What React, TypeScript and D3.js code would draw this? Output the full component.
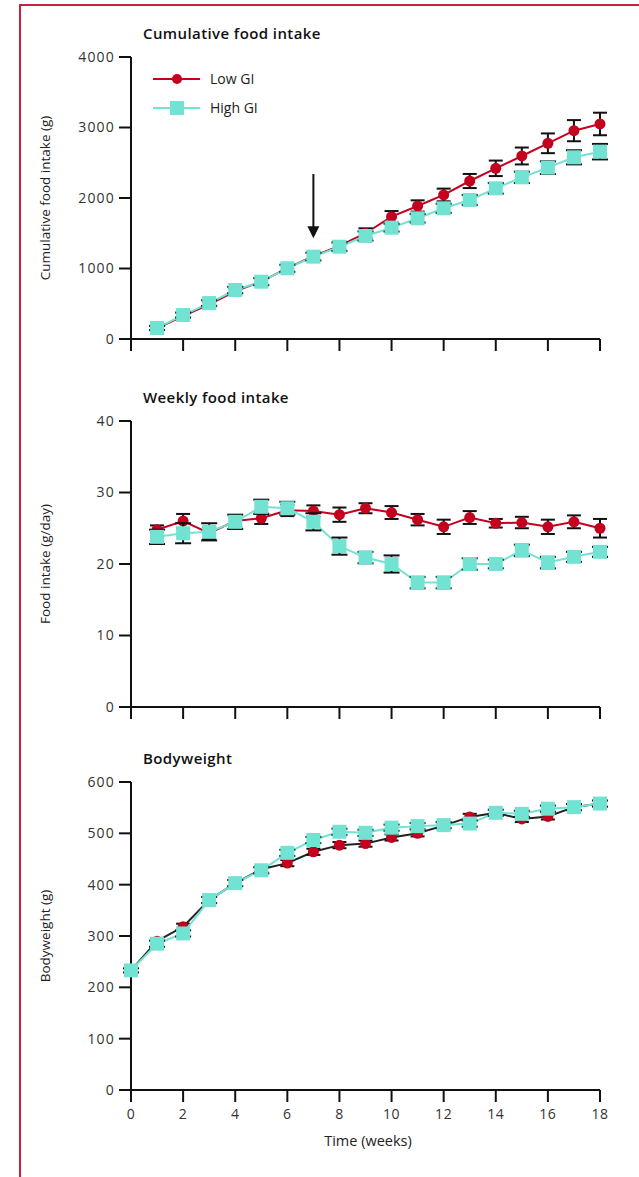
import React from "react";
import * as d3 from "d3";

const weeks = d3.range(1, 19);
const weeksBW = d3.range(0, 19);
const xTicks = [0, 2, 4, 6, 8, 10, 12, 14, 16, 18];

const cumLow = [150, 325, 490, 675, 815, 1005, 1175, 1320, 1500, 1735, 1887, 2043, 2241, 2421, 2596, 2776, 2955, 3050];
const cumLowErr = [30, 35, 40, 45, 50, 50, 55, 60, 70, 80, 80, 90, 100, 110, 120, 140, 150, 160];
const cumHigh = [156, 340, 510, 695, 813, 1003, 1168, 1309, 1461, 1579, 1712, 1854, 1972, 2137, 2293, 2430, 2577, 2657];
const cumHighErr = [30, 35, 40, 45, 50, 50, 55, 60, 65, 55, 60, 65, 70, 75, 80, 90, 100, 110];

const wkLow = [24.8, 26.0, 24.3, 26.0, 26.4, 27.5, 27.4, 26.9, 27.8, 27.2, 26.2, 25.2, 26.5, 25.7, 25.8, 25.2, 25.9, 25.0];
const wkLowErr = [0.6, 1.0, 0.8, 0.8, 0.8, 0.8, 0.8, 1.0, 0.7, 0.9, 0.8, 1.0, 0.9, 0.6, 0.8, 1.0, 0.9, 1.3];
const wkHigh = [23.8, 24.3, 24.5, 25.9, 28.0, 27.8, 25.9, 22.5, 20.9, 20.0, 17.4, 17.4, 20.0, 20.0, 21.9, 20.2, 21.0, 21.7];
const wkHighErr = [1.0, 1.4, 1.2, 1.0, 1.0, 0.9, 1.2, 1.2, 0.8, 1.2, 0.8, 0.8, 0.8, 0.6, 0.8, 0.8, 0.7, 0.7];

const bwLow = [233, 290, 318, 370, 403, 430, 442, 464, 477, 480, 492, 500, 515, 532, 540, 528, 533, 551, 558];
const bwLowErr = [4, 6, 6, 6, 6, 6, 6, 6, 6, 6, 6, 6, 6, 6, 6, 6, 6, 6, 6];
const bwHigh = [233, 285, 305, 370, 403, 428, 462, 487, 503, 501, 511, 514, 516, 519, 540, 538, 548, 551, 558];
const bwHighErr = [4, 6, 6, 6, 6, 6, 6, 6, 6, 6, 6, 6, 6, 6, 6, 6, 6, 6, 6];

const cumTicks = [0, 1000, 2000, 3000, 4000];
const wkTicks = [0, 10, 20, 30, 40];
const bwTicks = [0, 100, 200, 300, 400, 500, 600];

const RED = "#c4001f";
const CYAN = "#72e3d3";
const FONT = "'Open Sans', 'DejaVu Sans', sans-serif";

const x = d3.scaleLinear().domain([0, 18]).range([131, 600]);

type Series = { xs: number[]; ys: number[]; err: number[] };

function Panel(props: {
  title: string;
  ylabel: string;
  yDomain: [number, number];
  yRange: [number, number];
  ticks: number[];
  low: Series;
  high: Series;
  lowLine: string;
  showXLabels: boolean;
  children?: React.ReactNode;
}) {
  const { title, ylabel, yDomain, yRange, ticks, low, high, lowLine, showXLabels } = props;
  const y = d3.scaleLinear().domain(yDomain).range(yRange);
  const line = d3
    .line<[number, number]>()
    .x((d) => x(d[0]))
    .y((d) => y(d[1]));
  const pts = (s: Series) => s.xs.map((v, i) => [v, s.ys[i]] as [number, number]);
  const y0 = yRange[0];
  const y1 = yRange[1];
  const errBars = (s: Series, capW: number) =>
    s.xs.map((v, i) => {
      const cx = x(v);
      const top = y(s.ys[i] + s.err[i]);
      const bot = y(s.ys[i] - s.err[i]);
      return (
        <g key={i} stroke="#111" strokeWidth={2}>
          <line x1={cx} x2={cx} y1={top} y2={bot} />
          <line x1={cx - capW / 2} x2={cx + capW / 2} y1={top} y2={top} />
          <line x1={cx - capW / 2} x2={cx + capW / 2} y1={bot} y2={bot} />
        </g>
      );
    });
  const sq = 14;
  return (
    <g>
      <text x={143} y={y1 - 18} fontFamily={FONT} fontSize={15} fontWeight={600} letterSpacing={0.4} fill="#111">
        {title}
      </text>
      <text
        transform={`translate(50,${(y0 + y1) / 2}) rotate(-90)`}
        textAnchor="middle"
        fontFamily={FONT}
        fontSize={13.5}
        fill="#222"
      >
        {ylabel}
      </text>
      {/* axes */}
      <line x1={131} x2={131} y1={y0} y2={y1} stroke="#111" strokeWidth={2} />
      <line x1={131} x2={600} y1={y0} y2={y0} stroke="#111" strokeWidth={2} />
      {ticks.map((t) => (
        <g key={t}>
          <line x1={119} x2={131} y1={y(t)} y2={y(t)} stroke="#111" strokeWidth={2} />
          <text
            x={115}
            y={y(t)}
            dy="0.35em"
            textAnchor="end"
            fontFamily={FONT}
            fontSize={14}
            letterSpacing={1.2}
            fill="#333"
          >
            {t}
          </text>
        </g>
      ))}
      {xTicks.map((t) => (
        <g key={t}>
          <line x1={x(t)} x2={x(t)} y1={y0} y2={y0 + 12} stroke="#111" strokeWidth={2} />
          {showXLabels && (
            <text
              x={x(t)}
              y={y0 + 29}
              textAnchor="middle"
              fontFamily={FONT}
              fontSize={14}
              letterSpacing={0.6}
              fill="#333"
            >
              {t}
            </text>
          )}
        </g>
      ))}
      {/* low GI */}
      <path d={line(pts(low)) || ""} fill="none" stroke={lowLine} strokeWidth={2} />
      {errBars(low, 14)}
      {low.xs.map((v, i) => (
        <circle key={i} cx={x(v)} cy={y(low.ys[i])} r={5.5} fill={RED} />
      ))}
      {/* high GI */}
      <path d={line(pts(high)) || ""} fill="none" stroke={CYAN} strokeWidth={2} />
      {errBars(high, 16)}
      {high.xs.map((v, i) => (
        <rect
          key={i}
          x={x(v) - sq / 2}
          y={y(high.ys[i]) - sq / 2}
          width={sq}
          height={sq}
          fill={CYAN}
        />
      ))}
      {props.children}
    </g>
  );
}

export default function App() {
  const yCum = d3.scaleLinear().domain([0, 4000]).range([339, 57]);
  return (
    <svg
      width={639}
      height={1177}
      style={{ position: "absolute", left: 0, top: 0, background: "#fff" }}
    >
      <rect x={0} y={0} width={639} height={1177} fill="#fff" />
      <path d="M20,1177 L20,5 L639,5" fill="none" stroke="#cc2040" strokeWidth={2} />

      <Panel
        title="Cumulative food intake"
        ylabel="Cumulative food intake (g)"
        yDomain={[0, 4000]}
        yRange={[339, 57]}
        ticks={cumTicks}
        low={{ xs: weeks, ys: cumLow, err: cumLowErr }}
        high={{ xs: weeks, ys: cumHigh, err: cumHighErr }}
        lowLine={RED}
        showXLabels={false}
      >
        {/* arrow at week 7 */}
        <line x1={x(7)} x2={x(7)} y1={yCum(2340)} y2={yCum(1580)} stroke="#111" strokeWidth={2} />
        <path
          d={`M${x(7) - 6},${yCum(1600)} L${x(7) + 6},${yCum(1600)} L${x(7)},${yCum(1430)} Z`}
          fill="#111"
        />
        {/* legend */}
        <line x1={153} x2={200} y1={79} y2={79} stroke={RED} strokeWidth={2} />
        <circle cx={177} cy={79} r={5} fill={RED} />
        <text x={210} y={79} dy="0.35em" fontFamily={FONT} fontSize={14} fill="#222">
          Low GI
        </text>
        <line x1={153} x2={200} y1={108} y2={108} stroke={CYAN} strokeWidth={2} />
        <rect x={170} y={101} width={14} height={14} fill={CYAN} />
        <text x={210} y={108} dy="0.35em" fontFamily={FONT} fontSize={14} fill="#222">
          High GI
        </text>
      </Panel>

      <Panel
        title="Weekly food intake"
        ylabel="Food intake (g/day)"
        yDomain={[0, 40]}
        yRange={[707, 421]}
        ticks={wkTicks}
        low={{ xs: weeks, ys: wkLow, err: wkLowErr }}
        high={{ xs: weeks, ys: wkHigh, err: wkHighErr }}
        lowLine={RED}
        showXLabels={false}
      />

      <Panel
        title="Bodyweight"
        ylabel="Bodyweight (g)"
        yDomain={[0, 600]}
        yRange={[1090, 782]}
        ticks={bwTicks}
        low={{ xs: weeksBW, ys: bwLow, err: bwLowErr }}
        high={{ xs: weeksBW, ys: bwHigh, err: bwHighErr }}
        lowLine="#222"
        showXLabels={true}
      >
        <text x={368} y={1146} textAnchor="middle" fontFamily={FONT} fontSize={14.5} fill="#222">
          Time (weeks)
        </text>
      </Panel>
    </svg>
  );
}
